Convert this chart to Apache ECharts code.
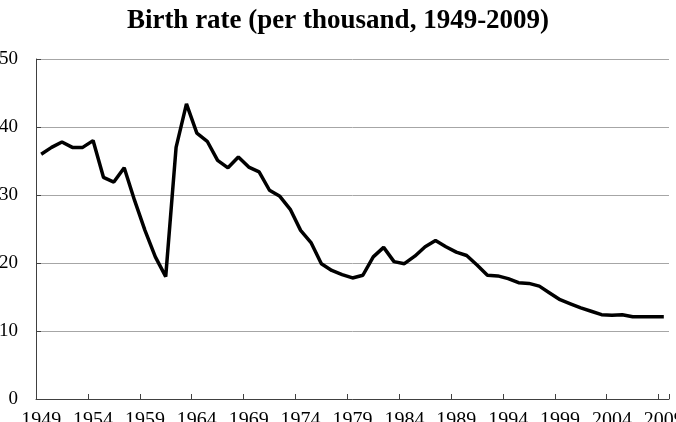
<!DOCTYPE html>
<html>
<head>
<meta charset="utf-8">
<script src="https://cdn.jsdelivr.net/npm/echarts@6/dist/echarts.min.js"></script>
<style>
  html, body { margin: 0; padding: 0; background: #fff; }
  #main { width: 676px; height: 422px; }
</style>
</head>
<body>
<div id="main"></div>
<script>
var years = [];
for (var y = 1949; y <= 2009; y++) years.push(String(y));

// births per thousand
var birthRate = [
  36.0, 37.0, 37.8, 37.0, 37.0, 38.0, 32.6, 31.9, 34.0, 29.2,
  24.8, 20.9, 18.0, 37.0, 43.4, 39.1, 37.9, 35.1, 34.0, 35.6,
  34.1, 33.4, 30.7, 29.8, 27.9, 24.8, 23.0, 19.9, 18.9, 18.3,
  17.8, 18.2, 20.9, 22.3, 20.2, 19.9, 21.0, 22.4, 23.3, 22.4,
  21.6, 21.1, 19.7, 18.2, 18.1, 17.7, 17.1, 17.0, 16.6, 15.6,
  14.6, 14.0, 13.4, 12.9, 12.4, 12.3, 12.4, 12.1, 12.1, 12.1,
  12.1
];

var fontFamily = "'Liberation Serif', 'Times New Roman', serif";

var myChart = echarts.init(document.getElementById("main"));
var option = {
  animation: false,
  title: {
    text: "Birth rate (per thousand, 1949-2009)",
    left: "center",
    top: 3,
    textStyle: {
      fontFamily: fontFamily,
      fontSize: 27,
      fontWeight: "bold",
      color: "#000"
    }
  },
  grid: {
    left: 36,
    right: 7,
    top: 59,
    bottom: 23,
    containLabel: false,
    outerBoundsMode: "none"
  },
  xAxis: {
    type: "category",
    data: years,
    boundaryGap: true,
    axisLine: {
      lineStyle: { color: "#404040", width: 1 }
    },
    axisTick: {
      show: true,
      inside: true,
      length: 5,
      interval: 4,
      lineStyle: { color: "#404040" }
    },
    axisLabel: {
      interval: 4,
      margin: 12,
      hideOverlap: false,
      fontFamily: fontFamily,
      fontSize: 20,
      color: "#000"
    },
    splitLine: { show: false }
  },
  yAxis: {
    type: "value",
    min: 0,
    max: 50,
    interval: 10,
    axisLine: {
      show: true,
      lineStyle: { color: "#404040", width: 1 }
    },
    axisTick: {
      show: true,
      inside: true,
      length: 5,
      lineStyle: { color: "#404040" }
    },
    axisLabel: {
      margin: 18,
      fontFamily: fontFamily,
      fontSize: 19,
      color: "#000"
    },
    splitLine: {
      lineStyle: { color: "#a6a6a6", width: 1 }
    }
  },
  series: [
    {
      type: "line",
      data: birthRate,
      symbol: "none",
      smooth: false,
      lineStyle: { color: "#000", width: 3.5 },
      itemStyle: { color: "#000" }
    }
  ]
};
myChart.setOption(option);
</script>
</body>
</html>
